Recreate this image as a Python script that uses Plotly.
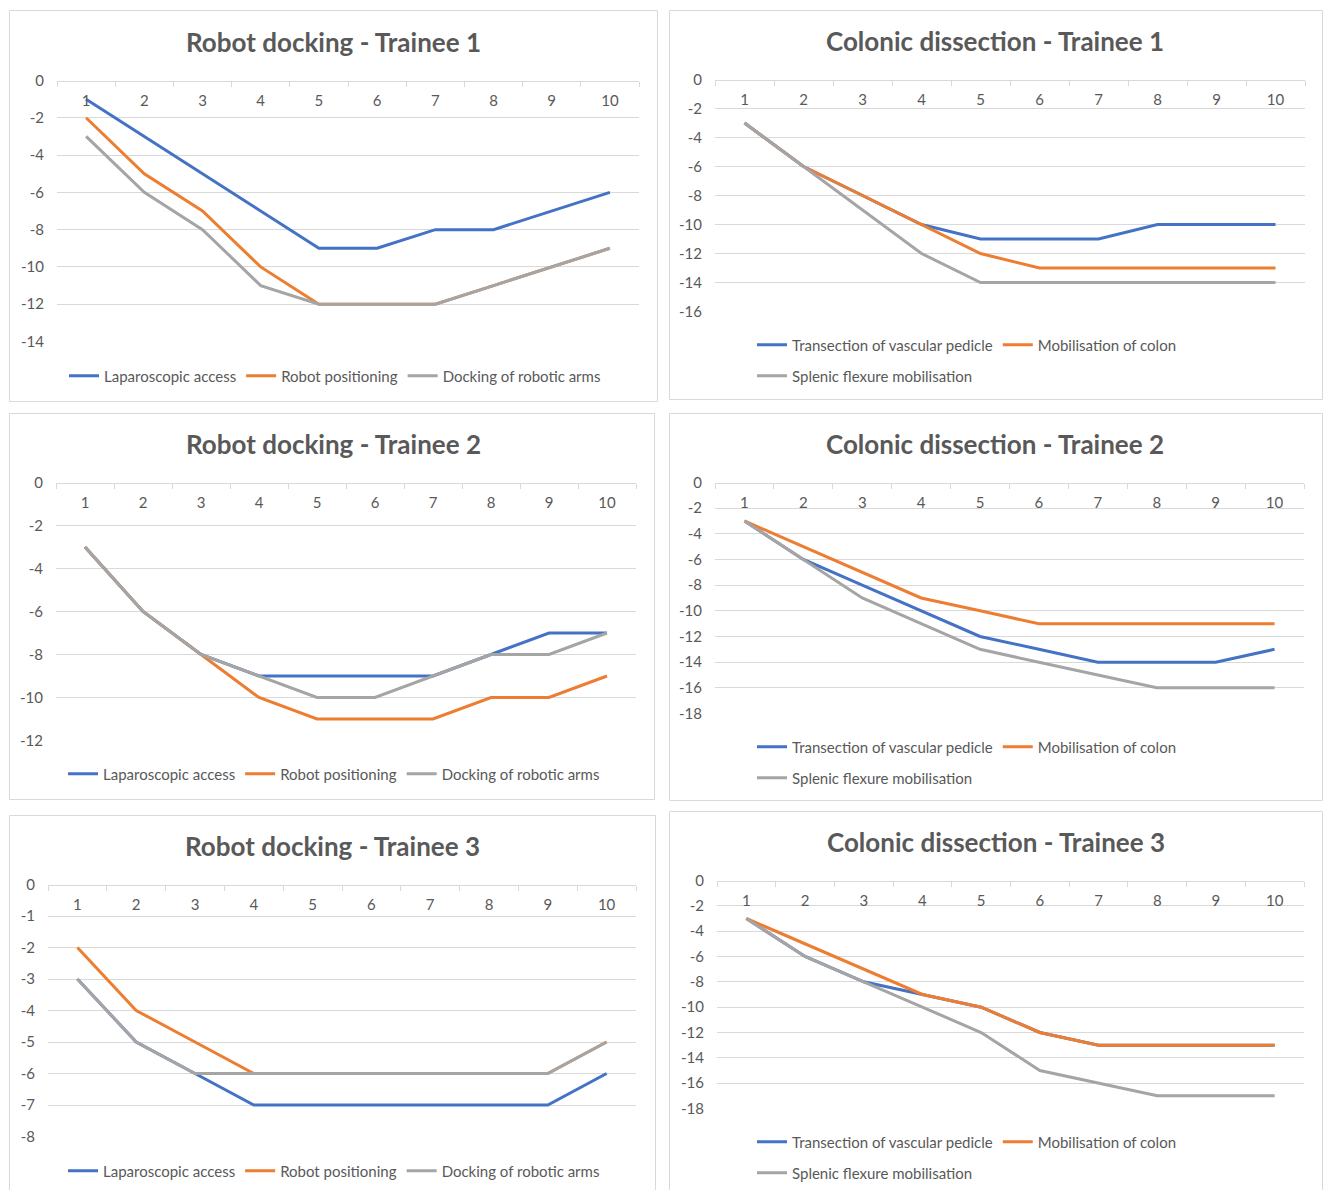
import plotly.graph_objects as go

W, H = 1323, 1190

# ---- data -------------------------------------------------------------
sessions = [1, 2, 3, 4, 5, 6, 7, 8, 9, 10]
session_labels = ["1", "2", "3", "4", "5", "6", "7", "8", "9", "10"]

docking_steps = ["Laparoscopic access", "Robot positioning", "Docking of robotic arms"]
dissection_steps = ["Transection of vascular pedicle", "Mobilisation of colon",
                    "Splenic flexure mobilisation"]

# Robot docking, trainee 1
dock_t1_access = [-1, -3, -5, -7, -9, -9, -8, -8, -7, -6]
dock_t1_position = [-2, -5, -7, -10, -12, -12, -12, -11, -10, -9]
dock_t1_arms = [-3, -6, -8, -11, -12, -12, -12, -11, -10, -9]

# Colonic dissection, trainee 1
diss_t1_pedicle = [-3, -6, -8, -10, -11, -11, -11, -10, -10, -10]
diss_t1_colon = [-3, -6, -8, -10, -12, -13, -13, -13, -13, -13]
diss_t1_splenic = [-3, -6, -9, -12, -14, -14, -14, -14, -14, -14]

# Robot docking, trainee 2
dock_t2_access = [-3, -6, -8, -9, -9, -9, -9, -8, -7, -7]
dock_t2_position = [-3, -6, -8, -10, -11, -11, -11, -10, -10, -9]
dock_t2_arms = [-3, -6, -8, -9, -10, -10, -9, -8, -8, -7]

# Colonic dissection, trainee 2
diss_t2_pedicle = [-3, -6, -8, -10, -12, -13, -14, -14, -14, -13]
diss_t2_colon = [-3, -5, -7, -9, -10, -11, -11, -11, -11, -11]
diss_t2_splenic = [-3, -6, -9, -11, -13, -14, -15, -16, -16, -16]

# Robot docking, trainee 3
dock_t3_access = [-3, -5, -6, -7, -7, -7, -7, -7, -7, -6]
dock_t3_position = [-2, -4, -5, -6, -6, -6, -6, -6, -6, -5]
dock_t3_arms = [-3, -5, -6, -6, -6, -6, -6, -6, -6, -5]

# Colonic dissection, trainee 3
diss_t3_pedicle = [-3, -6, -8, -9, -10, -12, -13, -13, -13, -13]
diss_t3_colon = [-3, -5, -7, -9, -10, -12, -13, -13, -13, -13]
diss_t3_splenic = [-3, -6, -8, -10, -12, -15, -16, -17, -17, -17]

chart_titles = ["Robot docking - Trainee 1", "Colonic dissection - Trainee 1",
                "Robot docking - Trainee 2", "Colonic dissection - Trainee 2",
                "Robot docking - Trainee 3", "Colonic dissection - Trainee 3"]

axis_min = [-14, -16, -12, -18, -8, -18]
axis_step = [2, 2, 2, 2, 1, 2]

panel_series = [
    (docking_steps, [dock_t1_access, dock_t1_position, dock_t1_arms]),
    (dissection_steps, [diss_t1_pedicle, diss_t1_colon, diss_t1_splenic]),
    (docking_steps, [dock_t2_access, dock_t2_position, dock_t2_arms]),
    (dissection_steps, [diss_t2_pedicle, diss_t2_colon, diss_t2_splenic]),
    (docking_steps, [dock_t3_access, dock_t3_position, dock_t3_arms]),
    (dissection_steps, [diss_t3_pedicle, diss_t3_colon, diss_t3_splenic]),
]

# ---- styling / layout -------------------------------------------------
COLORS = ["#4472C4", "#ED7D31", "#A5A5A5"]
GRID = "#D9D9D9"
TEXT = "#595959"
FONT = "Lato"

# pixel geometry of each chart: plot area (x0, x1, ytop, ybottom),
# outer frame (x0, y0, x1, y1), title centre, legend placement
panels = [
    dict(plot=(57, 639, 80.5, 341.5), frame=(9.5, 10.5, 657.5, 401.5),
         title=(333, 42), legend=("center", 335, [376])),
    dict(plot=(715, 1305, 79.5, 311.5), frame=(669.5, 10.5, 1322.5, 399.5),
         title=(995, 41), legend=("left", 752, [345, 376])),
    dict(plot=(56, 636, 482.5, 740.5), frame=(9.5, 413.5, 654.5, 799.5),
         title=(333, 444), legend=("center", 334, [774])),
    dict(plot=(715, 1304, 482.5, 713.5), frame=(669.5, 413.5, 1322.5, 800.5),
         title=(995, 444), legend=("left", 752, [747, 778])),
    dict(plot=(48, 636, 884.5, 1136.5), frame=(9.5, 815.5, 655.5, 1200),
         title=(332, 846), legend=("center", 334, [1171])),
    dict(plot=(717, 1304, 880.5, 1108.5), frame=(669.5, 811.5, 1322.5, 1200),
         title=(996, 842), legend=("left", 752, [1142, 1173])),
]


def fx(px):
    return px / W


def fy(py):
    return 1 - py / H


fig = go.Figure()
layout = {}
shapes = []
annotations = []
legend_count = 0

for i, (panel, (names, series)) in enumerate(zip(panels, panel_series)):
    n = i + 1
    xa = "xaxis" if n == 1 else f"xaxis{n}"
    ya = "yaxis" if n == 1 else f"yaxis{n}"
    xref = "x" if n == 1 else f"x{n}"
    yref = "y" if n == 1 else f"y{n}"
    x0, x1, yt, yb = panel["plot"]

    # legends: one row for docking charts, two rows for dissection charts
    anchor, lx, rows = panel["legend"]
    legend_ids = []
    for r, ry in enumerate(rows):
        legend_count += 1
        lid = "legend" if legend_count == 1 else f"legend{legend_count}"
        legend_ids.append(lid)
        layout[lid] = dict(
            orientation="h", xanchor=anchor, yanchor="middle",
            x=fx(lx), y=fy(ry), bgcolor="rgba(0,0,0,0)",
            font=dict(family=FONT, size=15, color=TEXT),
            itemwidth=30, traceorder="normal", tracegroupgap=0,
        )
    for k, (name, vals) in enumerate(zip(names, series)):
        if len(legend_ids) == 1:
            lid = legend_ids[0]
        else:
            lid = legend_ids[0] if k < 2 else legend_ids[1]
        fig.add_trace(go.Scatter(
            x=sessions, y=vals, name=name, mode="lines",
            line=dict(color=COLORS[k], width=3),
            xaxis=xref, yaxis=yref, legend=lid,
        ))

    ymin, step = axis_min[i], axis_step[i]
    yticks = list(range(0, ymin - 1, -step))
    # category axis sits on the zero line at the top, labels hang below it
    layout[xa] = dict(
        domain=[fx(x0), fx(x1)], anchor="free", position=fy(yt), side="bottom",
        range=[0.5, 10.5], tickvals=sessions, ticktext=session_labels,
        ticks="", ticklabelstandoff=6, automargin=False,
        showline=True, linecolor=GRID, linewidth=1, showgrid=False,
        zeroline=False, fixedrange=True,
        tickfont=dict(family=FONT, size=15, color=TEXT),
        minor=dict(tickvals=[s - 0.5 for s in sessions] + [sessions[-1] + 0.5],
                   ticks="outside", ticklen=5, tickcolor=GRID, tickwidth=1,
                   showgrid=False),
    )
    layout[ya] = dict(
        domain=[fy(yb), fy(yt)], anchor=xref, range=[ymin, 0],
        tickvals=yticks, ticktext=[str(v) for v in yticks],
        ticks="", showline=False, showgrid=True, gridcolor=GRID, gridwidth=1,
        zeroline=False, fixedrange=True, ticklabelstandoff=12, automargin=False,
        tickfont=dict(family=FONT, size=15, color=TEXT),
    )

    fx0, fy0, fx1, fy1 = panel["frame"]
    shapes.append(dict(type="rect", xref="paper", yref="paper",
                       x0=fx(fx0), x1=fx(fx1), y0=fy(fy1), y1=fy(fy0),
                       line=dict(color=GRID, width=1), fillcolor="rgba(0,0,0,0)",
                       layer="below"))
    tx, ty = panel["title"]
    annotations.append(dict(text=f"<b>{chart_titles[i]}</b>", xref="paper", yref="paper",
                            x=fx(tx), y=fy(ty), xanchor="center", yanchor="middle",
                            showarrow=False,
                            font=dict(family=FONT, size=26, color=TEXT)))

fig.update_layout(
    template="none",
    width=W, height=H, margin=dict(l=0, r=0, t=0, b=0, pad=0, autoexpand=False),
    paper_bgcolor="white", plot_bgcolor="white",
    shapes=shapes, annotations=annotations, showlegend=True,
    **layout,
)

fig.write_html("out.html", include_plotlyjs=True)
